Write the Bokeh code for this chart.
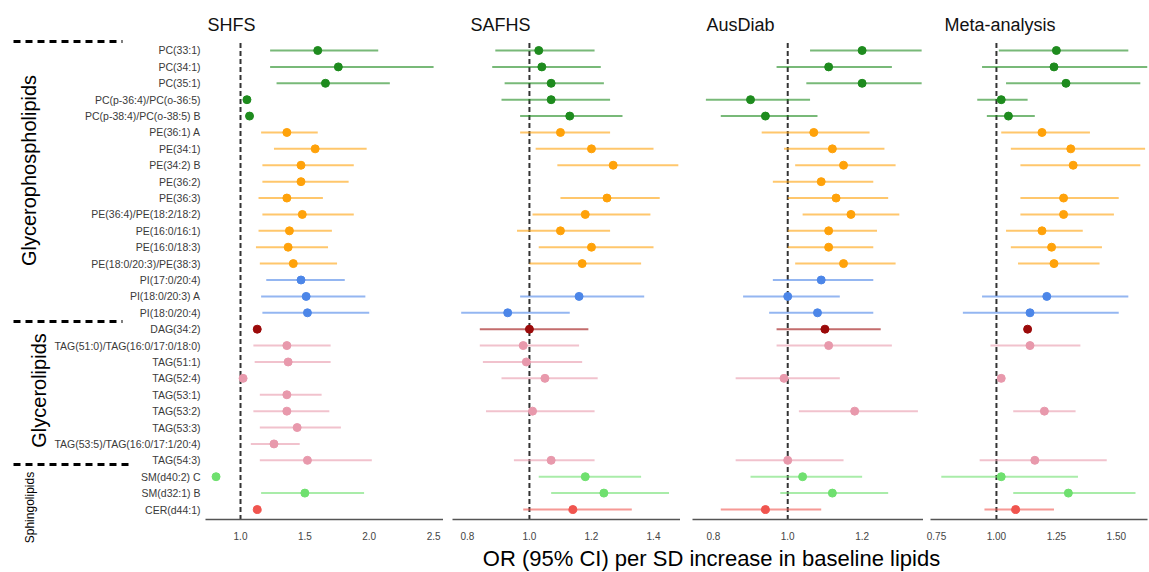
import numpy as np
from math import pi
from bokeh.plotting import figure
from bokeh.models import Range1d, FixedTicker, PrintfTickFormatter, Label, ColumnDataSource
from bokeh.layouts import row, column
from bokeh.core.properties import value
from bokeh.embed import file_html
from bokeh.resources import INLINE

nan = np.nan

lipids = ["PC(33:1)", "PC(34:1)", "PC(35:1)", "PC(p-36:4)/PC(o-36:5)", "PC(p-38:4)/PC(o-38:5) B",
          "PE(36:1) A", "PE(34:1)", "PE(34:2) B", "PE(36:2)", "PE(36:3)", "PE(36:4)/PE(18:2/18:2)",
          "PE(16:0/16:1)", "PE(16:0/18:3)", "PE(18:0/20:3)/PE(38:3)", "PI(17:0/20:4)",
          "PI(18:0/20:3) A", "PI(18:0/20:4)", "DAG(34:2)", "TAG(51:0)/TAG(16:0/17:0/18:0)",
          "TAG(51:1)", "TAG(52:4)", "TAG(53:1)", "TAG(53:2)", "TAG(53:3)",
          "TAG(53:5)/TAG(16:0/17:1/20:4)", "TAG(54:3)", "SM(d40:2) C", "SM(d32:1) B", "CER(d44:1)"]
lipid_class = (["PC"] * 5 + ["PE"] * 9 + ["PI"] * 3 + ["DAG"] + ["TAG"] * 8 + ["SM"] * 2 + ["CER"])

groups = ["Glycerophospholipids", "Glycerolipids", "Sphingolipids"]
studies = ["SHFS", "SAFHS", "AusDiab", "Meta-analysis"]

shfs_or = [1.60, 1.76, 1.66, 1.05, 1.07, 1.36, 1.58, 1.47, 1.47, 1.36, 1.48, 1.38, 1.37, 1.41, 1.47,
           1.51, 1.52, 1.13, 1.36, 1.37, 1.02, 1.36, 1.36, 1.44, 1.26, 1.52, 0.81, 1.50, 1.13]
shfs_lo = [1.23, 1.23, 1.28, nan, nan, 1.16, 1.26, 1.17, 1.17, 1.14, 1.17, 1.14, 1.12, 1.15, 1.20,
           1.16, 1.17, nan, 1.10, 1.11, nan, 1.15, 1.10, 1.15, 1.08, 1.15, nan, 1.16, nan]
shfs_hi = [2.07, 2.50, 2.16, nan, nan, 1.60, 1.98, 1.88, 1.84, 1.64, 1.88, 1.71, 1.68, 1.75, 1.81,
           1.97, 2.00, nan, 1.70, 1.70, nan, 1.63, 1.69, 1.78, 1.46, 2.02, nan, 1.96, nan]

safhs_or = [1.03, 1.04, 1.07, 1.07, 1.13, 1.10, 1.20, 1.27, nan, 1.25, 1.18, 1.10, 1.20, 1.17, nan,
            1.16, 0.93, 1.00, 0.98, 0.99, 1.05, nan, 1.01, nan, nan, 1.07, 1.18, 1.24, 1.14]
safhs_lo = [0.89, 0.88, 0.92, 0.91, 0.97, 0.97, 1.02, 1.09, nan, 1.10, 1.01, 0.96, 1.03, 1.00, nan,
            0.97, 0.78, 0.84, 0.84, 0.85, 0.91, nan, 0.86, nan, nan, 0.95, 1.03, 1.07, 0.98]
safhs_hi = [1.21, 1.23, 1.24, 1.26, 1.30, 1.26, 1.40, 1.48, nan, 1.42, 1.39, 1.26, 1.40, 1.36, nan,
            1.37, 1.13, 1.19, 1.16, 1.17, 1.22, nan, 1.21, nan, nan, 1.21, 1.36, 1.45, 1.33]

aus_or = [1.20, 1.11, 1.20, 0.90, 0.94, 1.07, 1.12, 1.15, 1.09, 1.13, 1.17, 1.11, 1.11, 1.15, 1.09,
          1.00, 1.08, 1.10, 1.11, nan, 0.99, nan, 1.18, nan, nan, 1.00, 1.04, 1.12, 0.94]
aus_lo = [1.06, 0.97, 1.05, 0.78, 0.82, 0.93, 0.99, 1.02, 0.96, 1.00, 1.04, 1.00, 1.00, 1.02, 0.96,
          0.88, 0.95, 0.97, 0.97, nan, 0.86, nan, 1.03, nan, nan, 0.86, 0.90, 0.98, 0.82]
aus_hi = [1.36, 1.28, 1.36, 1.06, 1.08, 1.22, 1.26, 1.29, 1.23, 1.27, 1.30, 1.24, 1.23, 1.29, 1.23,
          1.14, 1.23, 1.25, 1.28, nan, 1.14, nan, 1.35, nan, nan, 1.15, 1.20, 1.27, 1.09]

meta_or = [1.25, 1.24, 1.29, 1.02, 1.05, 1.19, 1.31, 1.32, nan, 1.28, 1.28, 1.19, 1.23, 1.24, nan,
           1.21, 1.14, 1.13, 1.14, nan, 1.02, nan, 1.20, nan, nan, 1.16, 1.02, 1.30, 1.08]
meta_lo = [1.01, 0.94, 1.04, 0.92, 0.96, 1.02, 1.06, 1.10, nan, 1.10, 1.10, 1.04, 1.06, 1.09, nan,
           0.94, 0.86, nan, 0.975, nan, nan, nan, 1.07, nan, nan, 0.93, 0.77, 1.07, 0.95]
meta_hi = [1.55, 1.63, 1.60, 1.13, 1.16, 1.39, 1.62, 1.60, nan, 1.51, 1.49, 1.36, 1.44, 1.43, nan,
           1.55, 1.51, nan, 1.35, nan, nan, nan, 1.33, nan, nan, 1.46, 1.34, 1.58, 1.24]

shfs_ticks = [1.0, 1.5, 2.0, 2.5]
safhs_ticks = [0.8, 1.0, 1.2, 1.4]
aus_ticks = [0.8, 1.0, 1.2]
meta_ticks = [0.75, 1.00, 1.25, 1.50]

x_label = "OR (95% CI) per SD increase in baseline lipids"

# ---------- styles ----------
class_colors = {"PC": "#1E8B1E", "PE": "#FFA20A", "PI": "#4C86E8", "DAG": "#9B0A0A",
                "TAG": "#E899AC", "SM": "#6FE06F", "CER": "#F0554F"}
FONT = "Liberation Sans"
rows_idx = np.arange(len(lipids), dtype=float)
colors = [class_colors[c] for c in lipid_class]

Y_TOP = -0.854
Y_BOT = 28.61
Y_BOT_LABEL = 31.843


def panel(title, ors, los, his, xr, ticks, fmt, width, left, right, toff):
    p = figure(width=width, height=545, x_range=Range1d(*xr), y_range=Range1d(Y_BOT, Y_TOP),
               output_backend="svg", toolbar_location=None, y_axis_location=None,
               min_border_left=left, min_border_right=right, min_border_top=36,
               min_border_bottom=26, title=title)
    p.title.text_font = FONT
    p.title.text_font_size = "18px"
    p.title.text_font_style = "normal"
    p.title.text_color = "#111111"
    p.title.align = "left"
    p.title.offset = toff
    p.title.standoff = 4
    p.outline_line_color = None
    p.grid.visible = False
    p.background_fill_color = "white"
    p.border_fill_color = "white"
    src = ColumnDataSource(dict(y=rows_idx, o=np.array(ors, dtype=float),
                                lo=np.array(los, dtype=float), hi=np.array(his, dtype=float),
                                c=colors))
    p.segment(x0=[1.0], x1=[1.0], y0=[-0.45], y1=[Y_BOT], line_color="#333333",
              line_width=2, line_dash="5 3")
    p.segment(x0="lo", x1="hi", y0="y", y1="y", source=src, line_color="c",
              line_alpha=0.6, line_width=2)
    p.scatter(x="o", y="y", source=src, size=8, fill_color="c", line_color="c")
    ax = p.xaxis[0]
    ax.ticker = FixedTicker(ticks=ticks)
    ax.formatter = PrintfTickFormatter(format=fmt)
    ax.major_tick_line_color = None
    ax.minor_tick_line_color = None
    ax.axis_line_color = "#555555"
    ax.axis_line_width = 1.5
    ax.major_label_text_font = FONT
    ax.major_label_text_font_size = "10px"
    ax.major_label_text_color = "#444444"
    ax.major_label_standoff = 6
    return p


p1 = panel(studies[0], shfs_or, shfs_lo, shfs_hi, (0.728, 2.577), shfs_ticks, "%.1f", 238, 0, 0, 2)
p2 = panel(studies[1], safhs_or, safhs_lo, safhs_hi, (0.752, 1.487), safhs_ticks, "%.1f", 237, 9, 0, 18)
p3 = panel(studies[2], aus_or, aus_lo, aus_hi, (0.744, 1.365), aus_ticks, "%.1f", 243, 12, 0, 14)
p4 = panel(studies[3], meta_or, meta_lo, meta_hi, (0.725, 1.63), meta_ticks, "%.2f", 226, 7, 2, 14)

# ---------- label column ----------
pl = figure(width=205, height=572, x_range=Range1d(0, 205), y_range=Range1d(Y_BOT_LABEL, Y_TOP),
            output_backend="svg", toolbar_location=None, x_axis_location=None,
            y_axis_location=None, min_border_left=0, min_border_right=0, min_border_top=36,
            min_border_bottom=0)
pl.outline_line_color = None
pl.grid.visible = False
pl.text(x=np.full(len(lipids), 200.0), y=rows_idx, text=lipids, text_align="right",
        text_baseline="middle", text_font=value(FONT), text_font_size="10.5px",
        text_color="#3a3a3a")
pl.segment(x0=[13, 13, 13], x1=[122, 122, 128], y0=[-0.55, 16.53, 25.26],
           y1=[-0.55, 16.53, 25.26], line_color="black", line_width=3, line_dash="7 5")
pl.text(x=[28, 38], y=[7.32, 20.74], text=groups[:2], angle=pi / 2, text_align="center",
        text_baseline="middle", text_font=value(FONT), text_font_size="20px",
        text_color="black")
pl.text(x=[29], y=[27.88], text=groups[2:], angle=pi / 2, text_align="center",
        text_baseline="middle", text_font=value(FONT), text_font_size="12px",
        text_color="black")

# ---------- shared x label ----------
pb = figure(width=944, height=27, x_range=Range1d(0, 1), y_range=Range1d(0, 1),
            output_backend="svg", toolbar_location=None, x_axis_location=None,
            y_axis_location=None, min_border_left=0, min_border_right=0, min_border_top=0,
            min_border_bottom=0)
pb.outline_line_color = None
pb.grid.visible = False
pb.add_layout(Label(x=506, y=14, x_units="screen", y_units="screen", text=x_label,
                    text_align="center", text_baseline="middle", text_font=FONT,
                    text_font_size="22px", text_color="black"))

layout = row(pl, column(row(p1, p2, p3, p4), pb))

open("out.html", "w").write(file_html(layout, INLINE))
